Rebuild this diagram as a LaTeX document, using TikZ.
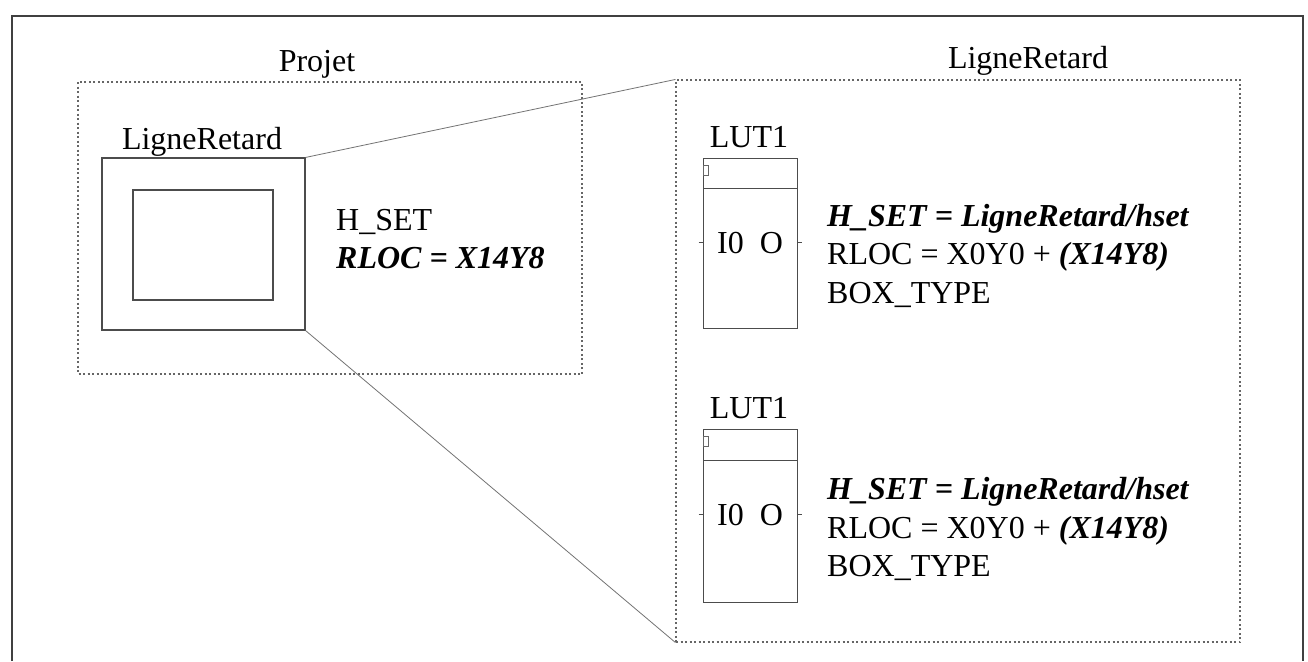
\documentclass[tikz,border=0pt]{standalone}
\usepackage{fontspec}
\setmainfont{Liberation Serif}
\begin{document}
\begin{tikzpicture}[x=1pt,y=-1pt,
  txt/.style={inner sep=0pt, font=\fontsize{32}{38}\selectfont},
  dotbox/.style={draw=black!60, line width=1.1pt, dash pattern=on 2pt off 2.5pt},
  solidbox/.style={draw=black!70, line width=1.1pt},
  zoomline/.style={draw=black!55, line width=0.8pt},
  lutbox/.style={draw=black!70, line width=1pt}]
\useasboundingbox (0,0) rectangle (1308,661);
% outer frame
\draw[black!75, line width=1.6pt] (12,661) -- (12,16) -- (1303,16) -- (1303,661);
% Projet box
\draw[dotbox] (78,82) rectangle (582,374);
\node[txt, anchor=base] (projet) at (317,71) {Projet};
% LigneRetard small
\node[solidbox, inner sep=0pt, minimum width=203pt, minimum height=172pt] (lr) at (203.5,244) {};
\node[solidbox, inner sep=0pt, minimum width=140pt, minimum height=110pt] (lrin) at (203,245) {};
\node[txt, anchor=base] (lrlab) at (202,149) {LigneRetard};
\node[txt, anchor=base west] (hset) at (336,230) {H\_SET};
\node[txt, anchor=base west] (rloc) at (336,268) {\textbf{\textit{RLOC = X14Y8}}};
% right box
\node[dotbox, inner sep=0pt, minimum width=564pt, minimum height=562pt] (rb) at (958,361) {};
\node[txt, anchor=base] (rblab) at (1028,68) {LigneRetard};
% zoom lines
\draw[zoomline] (lr.north east) -- (rb.north west);
\draw[zoomline] (lr.south east) -- (rb.south west);
% LUT 1
\node[txt, anchor=base] (lut1lab) at (749,147) {LUT1};
\node[lutbox, inner sep=0pt, minimum width=94pt, minimum height=170pt] (lut1) at (750,243) {};
\draw[lutbox] (703,188) -- (797,188);
\draw[black!60, line width=0.7pt] (703,165) rectangle (708,175);
\node[txt, anchor=base] (lut1i) at (730.5,253) {I0};
\node[txt, anchor=base] (lut1o) at (771.5,253) {O};
\draw[lutbox] ([xshift=-4pt]lut1.west |- 0,242) -- (lut1.west |- 0,242);
\draw[lutbox] (lut1.east |- 0,242) -- ([xshift=4pt]lut1.east |- 0,242);
\node[txt, anchor=base west] (a1) at (827,226) {\textbf{\textit{H\_SET = LigneRetard/hset}}};
\node[txt, anchor=base west] (b1) at (827,264) {RLOC = X0Y0 + \textbf{\textit{(X14Y8)}}};
\node[txt, anchor=base west] (c1) at (827,303) {BOX\_TYPE};
% LUT 2
\node[txt, anchor=base] (lut2lab) at (749,418) {LUT1};
\node[lutbox, inner sep=0pt, minimum width=94pt, minimum height=173pt] (lut2) at (750,515.5) {};
\draw[lutbox] (703,460) -- (797,460);
\draw[black!60, line width=0.7pt] (703,436) rectangle (708,446);
\node[txt, anchor=base] (lut2i) at (730.5,525) {I0};
\node[txt, anchor=base] (lut2o) at (771.5,525) {O};
\draw[lutbox] ([xshift=-4pt]lut2.west |- 0,514) -- (lut2.west |- 0,514);
\draw[lutbox] (lut2.east |- 0,514) -- ([xshift=4pt]lut2.east |- 0,514);
\node[txt, anchor=base west] (a2) at (827,499) {\textbf{\textit{H\_SET = LigneRetard/hset}}};
\node[txt, anchor=base west] (b2) at (827,538) {RLOC = X0Y0 + \textbf{\textit{(X14Y8)}}};
\node[txt, anchor=base west] (c2) at (827,576) {BOX\_TYPE};
\end{tikzpicture}
\end{document}
